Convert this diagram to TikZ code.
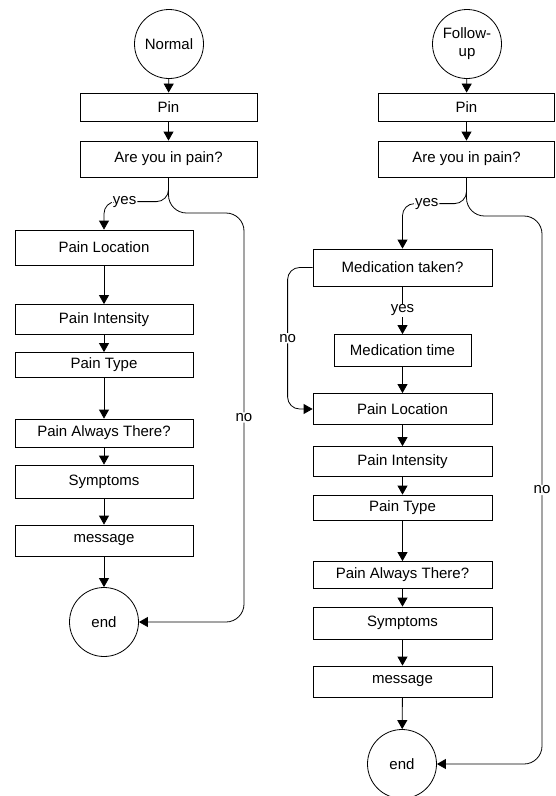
\documentclass[tikz,border=0pt]{standalone}
\usepackage{fontspec}
\setmainfont{Liberation Sans}
\usetikzlibrary{arrows.meta,calc}
\begin{document}
\begin{tikzpicture}[x=1pt,y=-1pt,line width=0.8pt,
  txt/.style={font=\fontsize{15}{18}\selectfont},
  box/.style={txt,draw,rectangle,inner sep=0pt},
  term/.style={txt,draw,circle,inner sep=0pt,minimum size=69pt,align=center},
  arr/.style={-{Triangle[length=9pt,width=10pt]}},
  lbl/.style={txt,fill=white,inner sep=1pt}]
\useasboundingbox (0,0) rectangle (555,796);

% ---------- left column ----------
\node[term] (start1) at (169,44) {Normal};
\node[box,minimum width=177pt,minimum height=28pt] (pin1) at (168.5,107) {Pin};
\node[box,minimum width=177pt,minimum height=36pt] (are1) at (168.5,159) {Are you in pain?};
\node[box,minimum width=178pt,minimum height=35pt] (loc1) at (104,247.5) {Pain Location};
\node[box,minimum width=178pt,minimum height=30pt] (int1) at (104,319.5) {Pain Intensity};
\node[box,minimum width=178pt,minimum height=25pt] (type1) at (104,365) {Pain Type};
\node[box,minimum width=178pt,minimum height=28pt] (alw1) at (104,433) {Pain Always There?};
\node[box,minimum width=178pt,minimum height=33pt] (sym1) at (104,481.5) {Symptoms};
\node[box,minimum width=178pt,minimum height=31pt] (msg1) at (104,540.5) {message};
\node[term] (end1) at (104,622) {end};

\draw[arr] (start1) -- (pin1);
\draw[arr] (pin1) -- (are1);
\draw[arr,rounded corners=12pt] (are1.south) |- node[lbl,pos=0.84]{yes} ($(loc1.north)+(0,-28)$) -- (loc1.north);
\draw[arr,rounded corners=18pt] (are1.south) |- (244,213) |- node[lbl,pos=0.25]{no} (end1.east);
\draw[arr] (loc1) -- (int1);
\draw[arr] (int1) -- (type1);
\draw[arr] (type1) -- (alw1);
\draw[arr] (alw1) -- (sym1);
\draw[arr] (sym1) -- (msg1);
\draw[arr] (msg1) -- (end1);

% ---------- right column ----------
\node[term] (start2) at (467,44) {Follow-\\up};
\node[box,minimum width=176pt,minimum height=28pt] (pin2) at (466.5,107) {Pin};
\node[box,minimum width=176pt,minimum height=36pt] (are2) at (466.5,159) {Are you in pain?};
\node[box,minimum width=179pt,minimum height=37pt] (med2) at (402.5,267.5) {Medication taken?};
\node[box,minimum width=137pt,minimum height=32pt] (mt2) at (402.5,350.5) {Medication time};
\node[box,minimum width=179pt,minimum height=31pt] (loc2) at (402.5,409) {Pain Location};
\node[box,minimum width=179pt,minimum height=30pt] (int2) at (402.5,461.5) {Pain Intensity};
\node[box,minimum width=179pt,minimum height=25pt] (type2) at (402.5,507.5) {Pain Type};
\node[box,minimum width=179pt,minimum height=27pt] (alw2) at (402.5,575) {Pain Always There?};
\node[box,minimum width=179pt,minimum height=32pt] (sym2) at (402.5,623) {Symptoms};
\node[box,minimum width=179pt,minimum height=31pt] (msg2) at (402.5,681.5) {message};
\node[term] (end2) at (402,764) {end};

\draw[arr] (start2) -- (pin2);
\draw[arr] (pin2) -- (are2);
\draw[arr,rounded corners=12pt] (are2.south) |- node[lbl,pos=0.81]{yes} ($(med2.north)+(0,-45)$) -- (med2.north);
\draw[arr,rounded corners=18pt] (are2.south) |- (542,216) |- node[lbl,pos=0.25]{no} (end2.east);
\draw[arr] (med2) -- node[lbl]{yes} (mt2);
\draw[arr,rounded corners=12pt] (med2.west) -- ++(-25,0) -- node[lbl]{no} ($(loc2.west)+(-25,0)$) -- (loc2.west);
\draw[arr] (mt2) -- (loc2);
\draw[arr] (loc2) -- (int2);
\draw[arr] (int2) -- (type2);
\draw[arr] (type2) -- (alw2);
\draw[arr] (alw2) -- (sym2);
\draw[arr] (sym2) -- (msg2);
\draw[arr] (msg2) -- (end2);
\end{tikzpicture}
\end{document}
